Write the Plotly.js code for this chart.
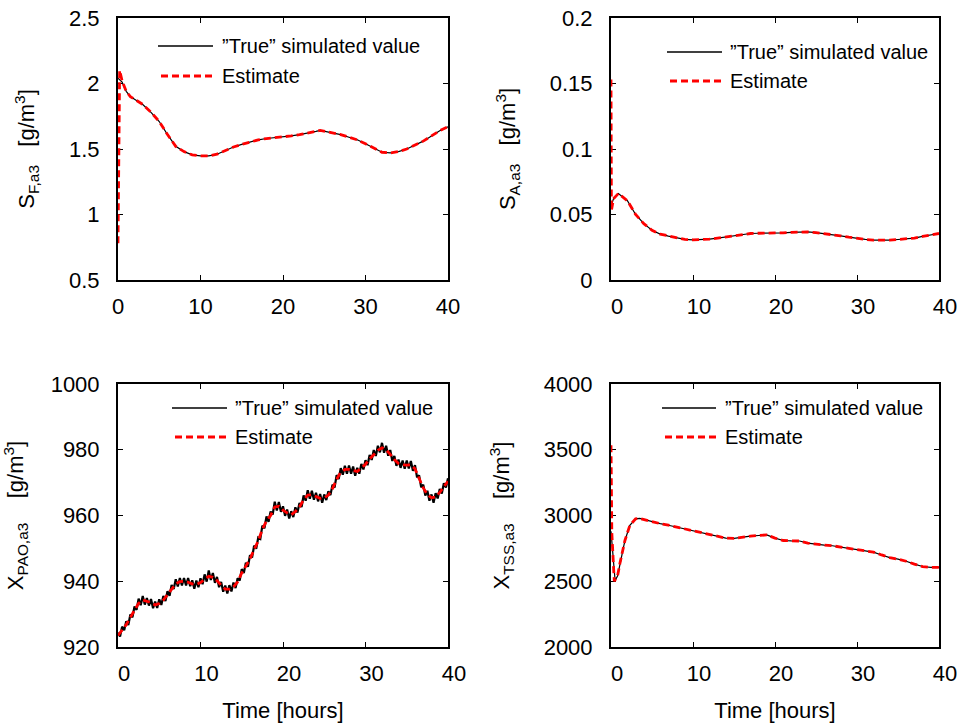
<!DOCTYPE html>
<html>
<head>
<meta charset="utf-8">
<script src="https://cdn.plot.ly/plotly-3.0.1.min.js"></script>
<style>html,body{margin:0;padding:0;background:#fff;}#chart{width:959px;height:723px;}</style>
</head>
<body>
<div id="chart"></div>
<script>
// ---------- data ----------
const legendLabels = ['\u201DTrue\u201D simulated value', 'Estimate'];
const xTickVals = [0, 10, 20, 30, 40];
const xTickText = ['0', '10', '20', '30', '40'];

// S_F,a3
const sfTrueT = [0,0.5,1,1.5,2,3,4,5,6,7,8,9,10,11,12,13,14,15,16,17,18,19,20,21,22,23,24,24.5,25,26,27,28,29,30,31,32,33,34,35,36,37,38,39,40];
const sfTrue  = [2.04,2.01,1.94,1.90,1.88,1.84,1.78,1.71,1.61,1.52,1.48,1.455,1.447,1.447,1.46,1.49,1.515,1.535,1.555,1.57,1.58,1.585,1.59,1.60,1.61,1.62,1.635,1.642,1.635,1.62,1.61,1.59,1.57,1.54,1.505,1.475,1.47,1.48,1.50,1.53,1.56,1.60,1.64,1.67];
const sfEstT  = [0,0.2,0.5,1,1.5,2,3,4,5,6,7,8,9,10,11,12,13,14,15,16,17,18,19,20,21,22,23,24,24.5,25,26,27,28,29,30,31,32,33,34,35,36,37,38,39,40];
const sfEst   = [0.78,2.10,2.02,1.94,1.90,1.88,1.84,1.78,1.71,1.61,1.52,1.48,1.455,1.447,1.447,1.46,1.49,1.515,1.535,1.555,1.57,1.58,1.585,1.59,1.60,1.61,1.62,1.635,1.642,1.635,1.62,1.61,1.59,1.57,1.54,1.505,1.475,1.47,1.48,1.50,1.53,1.56,1.60,1.64,1.67];
const sfTickVals = [0.5, 1, 1.5, 2, 2.5];
const sfTickText = ['0.5', '1', '1.5', '2', '2.5'];

// S_A,a3
const saTrueT = [0,0.3,0.9,2,3,4,5,6,7,8,9,10,11,12,13,14,15,16,17,18,19,20,21,22,23,24,25,26,27,28,29,30,31,32,33,34,35,36,37,38,39,40];
const saTrue  = [0.056,0.062,0.066,0.0605,0.050,0.043,0.038,0.035,0.0335,0.032,0.031,0.0307,0.0307,0.0312,0.032,0.033,0.034,0.0347,0.0355,0.0357,0.0357,0.0358,0.036,0.0364,0.0367,0.0367,0.0362,0.0355,0.0347,0.0337,0.0327,0.0316,0.031,0.0305,0.0302,0.0304,0.0309,0.0314,0.032,0.0333,0.0345,0.0355];
const saEstT  = [0,0.05,0.3,0.9,2,3,4,5,6,7,8,9,10,11,12,13,14,15,16,17,18,19,20,21,22,23,24,25,26,27,28,29,30,31,32,33,34,35,36,37,38,39,40];
const saEst   = [0.153,0.053,0.062,0.066,0.0605,0.050,0.043,0.038,0.035,0.0335,0.032,0.031,0.0307,0.0307,0.0312,0.032,0.033,0.034,0.0347,0.0355,0.0357,0.0357,0.0358,0.036,0.0364,0.0367,0.0367,0.0362,0.0355,0.0347,0.0337,0.0327,0.0316,0.031,0.0305,0.0302,0.0304,0.0309,0.0314,0.032,0.0333,0.0345,0.0355];
const saTickVals = [0, 0.05, 0.1, 0.15, 0.2];
const saTickText = ['0', '0.05', '0.1', '0.15', '0.2'];

// X_PAO,a3  (true sampled every 0.25 h, estimate every 0.5 h)
const paoTrue = [924.3,923.2,926.2,925.1,927.8,926.7,929.9,929.0,932.3,931.3,
934.7,932.7,935.5,932.9,934.9,932.6,934.6,931.8,933.8,931.9,
934.5,932.8,935.5,934.0,937.0,935.6,938.9,937.6,940.6,938.4,
941.0,938.7,941.0,938.7,941.0,938.5,940.3,937.7,940.2,938.2,
940.9,939.1,942.1,939.9,943.3,940.4,942.5,939.5,941.3,938.2,
939.8,936.8,938.7,936.3,938.8,936.9,939.6,937.9,940.9,940.2,
943.7,942.5,945.6,944.4,947.9,947.2,950.8,949.9,953.3,952.9,
956.9,956.1,959.7,958.1,961.2,960.3,964.2,961.5,964.1,961.1,
962.8,959.9,961.8,959.1,961.3,959.5,962.5,960.9,963.8,962.6,
966.1,964.5,967.7,965.1,967.5,964.8,966.9,964.3,966.5,963.9,
966.4,964.7,967.4,966.2,969.4,968.5,972.3,971.1,974.4,972.4,
975.1,972.7,975.2,972.7,974.9,972.1,974.5,972.7,975.7,974.0,
976.8,975.3,978.4,976.9,979.9,978.1,981.2,979.2,982.1,979.1,
981.2,978.2,979.9,976.6,978.1,975.1,977.0,974.5,976.7,974.2,
976.7,974.3,976.6,973.6,975.3,971.6,972.2,968.6,969.4,966.1,
967.5,964.5,966.4,963.9,966.8,965.2,968.1,966.7,969.8,968.5,
971.3];
const paoEst = [923.5,925.0,926.8,929.0,931.0,933.3,934.3,934.0,933.5,932.8,
933.2,934.3,936.0,937.8,939.2,939.9,940.0,939.7,939.2,939.0,
939.6,940.6,941.5,941.2,940.2,938.8,937.6,937.6,938.3,939.8,
942.5,944.6,946.8,949.6,952.3,955.8,958.4,960.0,962.6,962.8,
961.6,960.8,960.2,961.2,962.6,964.8,966.2,966.3,965.8,965.2,
965.3,966.2,968.2,971.0,973.2,974.0,974.0,973.6,973.4,974.4,
975.6,977.2,978.6,979.8,980.6,980.0,978.6,977.0,975.8,975.4,
975.3,975.4,974.2,971.0,968.4,966.4,965.4,965.6,967.0,968.8,
970.4];
const paoTickVals = [920, 940, 960, 980, 1000];
const paoTickText = ['920', '940', '960', '980', '1000'];

// X_TSS,a3
const tssTrueT = [0,0.2,0.5,0.8,1.1,1.7,2.3,3,3.5,4,5,6,7,8,9,10,11,12,13,14,15,16,17,18,19,20,21,22,23,24,25,26,27,28,29,30,31,32,33,34,35,36,37,38,39,40];
const tssTrue  = [2880,2700,2505,2540,2640,2810,2925,2975,2978,2970,2952,2938,2926,2912,2898,2880,2870,2857,2842,2828,2826,2836,2843,2848,2852,2828,2810,2807,2806,2790,2780,2775,2770,2762,2750,2740,2733,2722,2700,2680,2668,2652,2630,2612,2606,2606];
const tssEstT  = [0,0.1,0.4,0.8,1.1,1.7,2.3,3,3.5,4,5,6,7,8,9,10,11,12,13,14,15,16,17,18,19,20,21,22,23,24,25,26,27,28,29,30,31,32,33,34,35,36,37,38,39,40];
const tssEst   = [3535,2870,2500,2540,2640,2810,2925,2975,2978,2970,2952,2938,2926,2912,2898,2880,2870,2857,2842,2828,2826,2836,2843,2848,2852,2828,2810,2807,2806,2790,2780,2775,2770,2762,2750,2740,2733,2722,2700,2680,2668,2652,2630,2612,2606,2606];
const tssTickVals = [2000, 2500, 3000, 3500, 4000];
const tssTickText = ['2000', '2500', '3000', '3500', '4000'];

// ---------- layout helpers ----------
const W = 959, H = 723;
const fx = p => p / W;
const fy = p => 1 - p / H;
const FONT = 'Liberation Sans, Arial, Helvetica, sans-serif';
const trueLine = {color: 'black', width: 1.2};
const noisyTrueLine = {color: 'black', width: 2.2};
const estLine = {color: '#ff0000', width: 2.8, dash: '7px,4px'};

function xAx(dom, anchor, shift, title) {
  const a = {
    domain: dom, anchor: anchor, range: [0, 40],
    tickmode: 'array', tickvals: xTickVals, ticktext: xTickText,
    showline: true, linewidth: 2, linecolor: 'black', mirror: 'ticks',
    ticks: 'inside', ticklen: 5, tickwidth: 1, tickcolor: 'black',
    showgrid: false, zeroline: false, layer: 'below traces',
    tickfont: {family: FONT, size: 22, color: 'black'},
    ticklabelstandoff: 6, ticklabelshift: shift
  };
  if (title) a.title = {text: title, font: {family: FONT, size: 22, color: 'black'}, standoff: 18};
  return a;
}
function yAx(dom, anchor, range, tv, tt, title) {
  return {
    domain: dom, anchor: anchor, range: range,
    tickmode: 'array', tickvals: tv, ticktext: tt,
    showline: true, linewidth: 2, linecolor: 'black', mirror: 'ticks',
    ticks: 'inside', ticklen: 5, tickwidth: 1, tickcolor: 'black',
    showgrid: false, zeroline: false, layer: 'below traces',
    tickfont: {family: FONT, size: 22, color: 'black'},
    ticklabelstandoff: 12,
    title: {text: title, font: {family: FONT, size: 22, color: 'black'}, standoff: 28}
  };
}

const xL = [fx(118), fx(448)], xR = [fx(611), fx(939)];
const yT = [fy(280), fy(18)], yB = [fy(647), fy(384)];
const gap = '\u00a0\u00a0\u00a0\u00a0';
const gapTop = '\u00a0\u00a0\u00a0';
const tail = '\u00a0\u00a0\u00a0';

const traces = [
  {x: sfTrueT, y: sfTrue, xaxis: 'x', yaxis: 'y', mode: 'lines', line: trueLine, name: legendLabels[0]},
  {x: sfEstT, y: sfEst, xaxis: 'x', yaxis: 'y', mode: 'lines', line: estLine, name: legendLabels[1]},
  {x: saTrueT, y: saTrue, xaxis: 'x2', yaxis: 'y2', mode: 'lines', line: trueLine, name: legendLabels[0]},
  {x: saEstT, y: saEst, xaxis: 'x2', yaxis: 'y2', mode: 'lines', line: estLine, name: legendLabels[1]},
  {x0: 0, dx: 0.25, y: paoTrue, xaxis: 'x3', yaxis: 'y3', mode: 'lines', line: noisyTrueLine, name: legendLabels[0]},
  {x0: 0, dx: 0.5, y: paoEst, xaxis: 'x3', yaxis: 'y3', mode: 'lines', line: estLine, name: legendLabels[1]},
  {x: tssTrueT, y: tssTrue, xaxis: 'x4', yaxis: 'y4', mode: 'lines', line: trueLine, name: legendLabels[0]},
  {x: tssEstT, y: tssEst, xaxis: 'x4', yaxis: 'y4', mode: 'lines', line: estLine, name: legendLabels[1]}
];

// manual legends: [line x0, line x1, row1 y, row2 y, text x] in pixels
const legends = [
  [158, 213, 46, 76, 220],
  [667, 722, 52, 81, 728],
  [172, 227, 408, 437, 233],
  [662, 716, 408, 437, 723]
];
const shapes = [], annotations = [];
legends.forEach(L => {
  shapes.push({type: 'line', xref: 'paper', yref: 'paper', x0: fx(L[0]), x1: fx(L[1]), y0: fy(L[2]), y1: fy(L[2]), line: {color: 'black', width: 1.5}});
  shapes.push({type: 'line', xref: 'paper', yref: 'paper', x0: fx(L[0] + 3), x1: fx(L[1]), y0: fy(L[3]), y1: fy(L[3]), line: {color: '#ff0000', width: 3, dash: '7px,4px'}});
  annotations.push({xref: 'paper', yref: 'paper', x: fx(L[4]), y: fy(L[2]), xanchor: 'left', yanchor: 'middle', showarrow: false, text: legendLabels[0], font: {family: FONT, size: 20, color: 'black'}});
  annotations.push({xref: 'paper', yref: 'paper', x: fx(L[4]), y: fy(L[3]), xanchor: 'left', yanchor: 'middle', showarrow: false, text: legendLabels[1], font: {family: FONT, size: 20, color: 'black'}});
});

const layout = {
  width: W, height: H,
  margin: {l: 0, r: 0, t: 0, b: 0},
  paper_bgcolor: 'white', plot_bgcolor: 'white',
  showlegend: false,
  font: {family: FONT, color: 'black'},
  xaxis: xAx(xL, 'y', 0, null),
  yaxis: yAx(yT, 'x', [0.5, 2.5], sfTickVals, sfTickText, 'S<sub>F,a3</sub>' + gapTop + '[g/m<sup>3</sup>]' + tail),
  xaxis2: xAx(xR, 'y2', 6, null),
  yaxis2: yAx(yT, 'x2', [0, 0.2], saTickVals, saTickText, 'S<sub>A,a3</sub>' + gapTop + '[g/m<sup>3</sup>]' + tail),
  xaxis3: xAx(xL, 'y3', 6, 'Time [hours]'),
  yaxis3: yAx(yB, 'x3', [920, 1000], paoTickVals, paoTickText, 'X<sub>PAO,a3</sub>' + gap + '[g/m<sup>3</sup>]'),
  xaxis4: xAx(xR, 'y4', 6, 'Time [hours]'),
  yaxis4: yAx(yB, 'x4', [2000, 4000], tssTickVals, tssTickText, 'X<sub>TSS,a3</sub>' + gap + '[g/m<sup>3</sup>]'),
  shapes: shapes,
  annotations: annotations
};

Plotly.newPlot('chart', traces, layout, {staticPlot: true, displayModeBar: false});
</script>
</body>
</html>
